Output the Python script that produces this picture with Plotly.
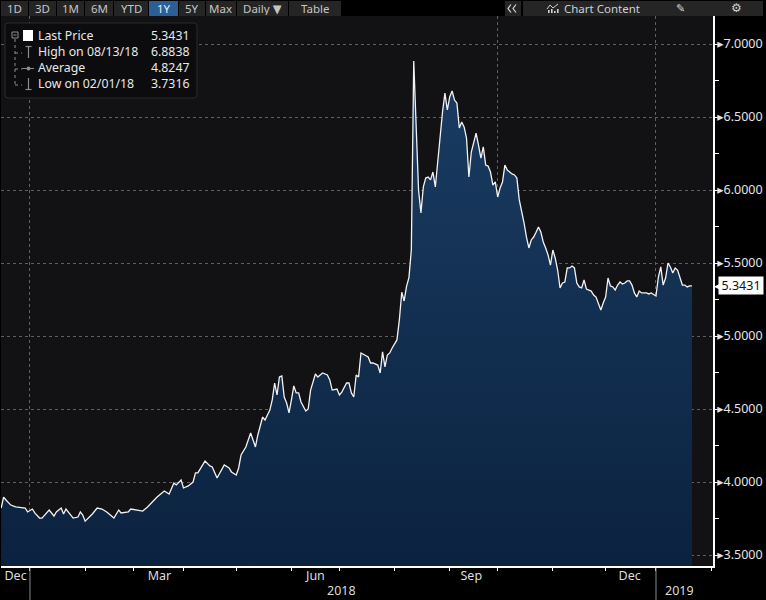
import plotly.graph_objects as go

# ---------------- data ----------------
dates = [
    "2017-12-14", "2017-12-15", "2017-12-18", "2017-12-20", "2017-12-22", "2017-12-28", "2017-12-29",
    "2018-01-02", "2018-01-03", "2018-01-05", "2018-01-08", "2018-01-11", "2018-01-15", "2018-01-16",
    "2018-01-18", "2018-01-19", "2018-01-22", "2018-01-24", "2018-01-25", "2018-01-29", "2018-01-30",
    "2018-01-31", "2018-02-01", "2018-02-06", "2018-02-08", "2018-02-12", "2018-02-14", "2018-02-19",
    "2018-02-21", "2018-02-22", "2018-02-27", "2018-02-28", "2018-03-05", "2018-03-07", "2018-03-09",
    "2018-03-14", "2018-03-15", "2018-03-20", "2018-03-22", "2018-03-26", "2018-03-27", "2018-03-29",
    "2018-03-30", "2018-04-03", "2018-04-05", "2018-04-06", "2018-04-09", "2018-04-11", "2018-04-12",
    "2018-04-16", "2018-04-17", "2018-04-19", "2018-04-23", "2018-04-24", "2018-04-26", "2018-04-27",
    "2018-05-01", "2018-05-02", "2018-05-03", "2018-05-07", "2018-05-09", "2018-05-11", "2018-05-14",
    "2018-05-16", "2018-05-17", "2018-05-21", "2018-05-22", "2018-05-23", "2018-05-24", "2018-05-25",
    "2018-05-28", "2018-05-29", "2018-05-30", "2018-05-31", "2018-06-01", "2018-06-04", "2018-06-05",
    "2018-06-06", "2018-06-07", "2018-06-11", "2018-06-12", "2018-06-13", "2018-06-15", "2018-06-18",
    "2018-06-19", "2018-06-20", "2018-06-22", "2018-06-25", "2018-06-26", "2018-06-28", "2018-06-29",
    "2018-07-02", "2018-07-04", "2018-07-05", "2018-07-06", "2018-07-09", "2018-07-10", "2018-07-11",
    "2018-07-12", "2018-07-16", "2018-07-17", "2018-07-18", "2018-07-19", "2018-07-23", "2018-07-24",
    "2018-07-25", "2018-07-26", "2018-07-27", "2018-07-30", "2018-07-31", "2018-08-02", "2018-08-03",
    "2018-08-06", "2018-08-07", "2018-08-08", "2018-08-09", "2018-08-10", "2018-08-13", "2018-08-14",
    "2018-08-15", "2018-08-16", "2018-08-17", "2018-08-20", "2018-08-21", "2018-08-22", "2018-08-23",
    "2018-08-24", "2018-08-27", "2018-08-28", "2018-08-29", "2018-08-30", "2018-08-31", "2018-09-03",
    "2018-09-04", "2018-09-05", "2018-09-06", "2018-09-07", "2018-09-10", "2018-09-11", "2018-09-12",
    "2018-09-13", "2018-09-14", "2018-09-18", "2018-09-19", "2018-09-20", "2018-09-21", "2018-09-24",
    "2018-09-25", "2018-09-26", "2018-09-27", "2018-09-28", "2018-10-01", "2018-10-02", "2018-10-03",
    "2018-10-04", "2018-10-05", "2018-10-08", "2018-10-09", "2018-10-10", "2018-10-11", "2018-10-12",
    "2018-10-15", "2018-10-16", "2018-10-17", "2018-10-18", "2018-10-19", "2018-10-22", "2018-10-23",
    "2018-10-24", "2018-10-25", "2018-10-26", "2018-10-29", "2018-10-30", "2018-10-31", "2018-11-01",
    "2018-11-02", "2018-11-05", "2018-11-06", "2018-11-07", "2018-11-08", "2018-11-09", "2018-11-12",
    "2018-11-13", "2018-11-14", "2018-11-15", "2018-11-16", "2018-11-19", "2018-11-20", "2018-11-21",
    "2018-11-23", "2018-11-26", "2018-11-27", "2018-11-28", "2018-11-29", "2018-11-30", "2018-12-03",
    "2018-12-04", "2018-12-05", "2018-12-06", "2018-12-07", "2018-12-10", "2018-12-11", "2018-12-12",
    "2018-12-13", "2018-12-14", "2018-12-17", "2018-12-18", "2018-12-19", "2018-12-20", "2018-12-21",
    "2018-12-24", "2018-12-26", "2018-12-27", "2018-12-28", "2019-01-01", "2019-01-02", "2019-01-03",
    "2019-01-04", "2019-01-07", "2019-01-08", "2019-01-09", "2019-01-10", "2019-01-11", "2019-01-14",
    "2019-01-16", "2019-01-17", "2019-01-18", "2019-01-21", "2019-01-22",
]
prices = [
    3.822, 3.897, 3.877, 3.842, 3.829, 3.822, 3.795,
    3.815, 3.788, 3.753, 3.753, 3.808, 3.767, 3.795,
    3.822, 3.781, 3.815, 3.774, 3.753, 3.760, 3.795,
    3.774, 3.7316, 3.781, 3.822, 3.815, 3.795, 3.753,
    3.808, 3.788, 3.795, 3.815, 3.808, 3.801, 3.829,
    3.884, 3.897, 3.938, 3.918, 3.993, 3.980, 4.014,
    3.959, 3.973, 4.000, 4.062, 4.062, 4.117, 4.144,
    4.110, 4.103, 4.027, 4.082, 4.117, 4.096, 4.069,
    4.048, 4.096, 4.185, 4.240, 4.336, 4.240, 4.322,
    4.445, 4.425, 4.493, 4.562, 4.678, 4.596, 4.719,
    4.726, 4.582, 4.541, 4.473, 4.562, 4.658, 4.610,
    4.610, 4.548, 4.486, 4.500, 4.630, 4.740, 4.719,
    4.733, 4.747, 4.733, 4.699, 4.630, 4.637, 4.596,
    4.616, 4.678, 4.678, 4.610, 4.582, 4.733, 4.719,
    4.884, 4.863, 4.856, 4.815, 4.815, 4.801, 4.747,
    4.891, 4.788, 4.870, 4.884, 4.918, 4.973, 5.110,
    5.300, 5.240, 5.340, 5.400, 5.590, 6.8838, 6.411,
    6.000, 5.843, 6.021, 6.082, 6.089, 6.069, 6.123,
    6.021, 6.171, 6.363, 6.534, 6.664, 6.548, 6.637,
    6.678, 6.616, 6.596, 6.425, 6.466, 6.432, 6.356,
    6.089, 6.260, 6.390, 6.308, 6.219, 6.295, 6.171,
    6.164, 6.123, 6.034, 6.055, 5.952, 6.014, 6.055,
    6.171, 6.137, 6.123, 6.110, 6.103, 6.082, 5.932,
    5.863, 5.774, 5.678, 5.603, 5.658, 5.678, 5.710,
    5.747, 5.712, 5.644, 5.603, 5.555, 5.486, 5.589,
    5.534, 5.452, 5.329, 5.363, 5.370, 5.466, 5.466,
    5.479, 5.466, 5.363, 5.336, 5.329, 5.384, 5.322,
    5.308, 5.281, 5.267, 5.226, 5.178, 5.226, 5.267,
    5.397, 5.343, 5.336, 5.315, 5.349, 5.370, 5.356,
    5.363, 5.377, 5.377, 5.349, 5.295, 5.267, 5.308,
    5.295, 5.295, 5.288, 5.295, 5.274, 5.404, 5.473,
    5.349, 5.397, 5.500, 5.473, 5.432, 5.466, 5.452,
    5.349, 5.349, 5.336, 5.343, 5.3431,
]

month_label_dates = ["2017-12-22", "2018-03-16", "2018-06-15", "2018-09-14", "2018-12-17"]
month_labels = ["Dec", "Mar", "Jun", "Sep", "Dec"]
quarter_dates = ["2018-01-01", "2018-04-01", "2018-07-01", "2018-10-01", "2019-01-01"]
year_start_dates = ["2018-01-01", "2019-01-01"]
year_label_dates = ["2018-07-02", "2019-01-15"]
year_labels = ["2018", "2019"]
y_ticks = [3.5, 4.0, 4.5, 5.0, 5.5, 6.0, 6.5, 7.0]

legend_names = ["Last Price", "High on 08/13/18", "Average", "Low on 02/01/18"]
legend_values = ["5.3431", "6.8838", "4.8247", "3.7316"]

toolbar_buttons = ["1D", "3D", "1M", "6M", "YTD", "1Y", "5Y", "Max", "Daily \u25BC", "Table"]
active_button = "1Y"

# ---------------- layout helpers (pixel -> paper) ----------------
WIDTH, HEIGHT = 766, 600
M_L, M_R, M_T, M_B = 1, 53, 16, 34
PW = WIDTH - M_L - M_R
PH = HEIGHT - M_T - M_B


def px(x):
    return (x - M_L) / PW


def py(y):
    return 1 - (y - M_T) / PH


FONT = "Noto Sans, DejaVu Sans, sans-serif"
GRID = "#5f5f62"
XRANGE = ["2017-12-13 22:00", "2019-02-01 18:30"]
BREAKS = [dict(bounds=["sat", "mon"])]

fig = go.Figure()

fig.add_trace(go.Scatter(
    x=dates, y=prices, mode="lines",
    line=dict(color="#f2f2f2", width=1.3),
    fill="tozeroy",
    fillgradient=dict(type="vertical", start=3.4, stop=6.9,
                      colorscale=[[0, "#0b223f"], [1, "#1a3d64"]]),
    hoverinfo="x+y", showlegend=False,
))
# carrier trace for the label axis
fig.add_trace(go.Scatter(x=[month_label_dates[0]], y=[None], xaxis="x2",
                         mode="lines", showlegend=False, hoverinfo="skip"))

shapes = []
annotations = []

# year divider lines below the axis
for d in year_start_dates:
    shapes.append(dict(type="line", xref="x", yref="paper", x0=d, x1=d,
                       y0=py(568), y1=py(600), line=dict(color="#8a8a8a", width=1)))
for d, t in zip(year_label_dates, year_labels):
    annotations.append(dict(xref="x", yref="paper", x=d, y=py(590), text=t,
                            showarrow=False, font=dict(family=FONT, size=12.5, color="#dcdcdc"),
                            xanchor="center", yanchor="middle", borderpad=0, height=15))

# last price tag
annotations.append(dict(xref="paper", yref="y", x=1, y=prices[-1], xanchor="left",
                        xshift=0, text="\u25C0", showarrow=False, borderpad=0,
                        font=dict(family="DejaVu Sans", size=9, color="white"), yanchor="middle"))
annotations.append(dict(xref="paper", yref="y", x=1, y=prices[-1], xanchor="left",
                        xshift=5, text=f"{prices[-1]:.4f}", showarrow=False,
                        bgcolor="white", width=44, height=17, borderpad=0,
                        font=dict(family=FONT, size=12.5, color="#111111"), yanchor="middle"))

# ---------------- legend box ----------------
r = 3
lx0, lx1, ly0, ly1 = 5, 197, 23, 98
legend_path = (
    f"M{px(lx0 + r)},{py(ly0)} L{px(lx1 - r)},{py(ly0)} Q{px(lx1)},{py(ly0)} {px(lx1)},{py(ly0 + r)} "
    f"L{px(lx1)},{py(ly1 - r)} Q{px(lx1)},{py(ly1)} {px(lx1 - r)},{py(ly1)} "
    f"L{px(lx0 + r)},{py(ly1)} Q{px(lx0)},{py(ly1)} {px(lx0)},{py(ly1 - r)} "
    f"L{px(lx0)},{py(ly0 + r)} Q{px(lx0)},{py(ly0)} {px(lx0 + r)},{py(ly0)} Z"
)
shapes.append(dict(type="path", xref="paper", yref="paper", path=legend_path,
                   fillcolor="#0c0c0f", line=dict(color="#2b2b2e", width=1), layer="above"))
row_y = [36, 52, 68, 84]
LEG_SIZE = 12.3  # 1.3 line spacing -> 16 px rows
annotations.append(dict(xref="paper", yref="paper", x=px(37), y=py(60),
                        text="<br>".join(legend_names), align="left",
                        showarrow=False, xanchor="left", yanchor="middle", borderpad=0,
                        font=dict(family=FONT, size=LEG_SIZE, color="#e8e8e8")))
annotations.append(dict(xref="paper", yref="paper", x=px(190), y=py(60),
                        text="<br>".join(legend_values), align="right",
                        showarrow=False, xanchor="right", yanchor="middle", borderpad=0,
                        font=dict(family=FONT, size=LEG_SIZE, color="#e8e8e8")))
ic = "#8c8c8c"
# tree lines
shapes.append(dict(type="line", xref="paper", yref="paper", x0=px(15), x1=px(15),
                   y0=py(39), y1=py(85), line=dict(color=ic, width=1, dash="dot"), layer="above"))
for ry in row_y[1:]:
    shapes.append(dict(type="line", xref="paper", yref="paper", x0=px(15), x1=px(22),
                       y0=py(ry + 1), y1=py(ry + 1), line=dict(color=ic, width=1, dash="dot"),
                       layer="above"))
# collapse box
shapes.append(dict(type="rect", xref="paper", yref="paper", x0=px(12), x1=px(18),
                   y0=py(38), y1=py(32), line=dict(color=ic, width=1), fillcolor="#0c0c0f",
                   layer="above"))
shapes.append(dict(type="line", xref="paper", yref="paper", x0=px(13.5), x1=px(16.5),
                   y0=py(35), y1=py(35), line=dict(color=ic, width=1), layer="above"))
# white square
shapes.append(dict(type="rect", xref="paper", yref="paper", x0=px(23), x1=px(33),
                   y0=py(41), y1=py(30), fillcolor="white", line=dict(width=0), layer="above"))
# high icon
shapes.append(dict(type="line", xref="paper", yref="paper", x0=px(28.5), x1=px(28.5),
                   y0=py(58), y1=py(46), line=dict(color=ic, width=1.2), layer="above"))
shapes.append(dict(type="line", xref="paper", yref="paper", x0=px(25.5), x1=px(31.5),
                   y0=py(46.5), y1=py(46.5), line=dict(color=ic, width=1.2), layer="above"))
# average icon
shapes.append(dict(type="line", xref="paper", yref="paper", x0=px(22), x1=px(34),
                   y0=py(68.5), y1=py(68.5), line=dict(color=ic, width=1), layer="above"))
shapes.append(dict(type="circle", xref="paper", yref="paper", x0=px(26.5), x1=px(30.5),
                   y0=py(70.5), y1=py(66.5), fillcolor=ic, line=dict(width=0), layer="above"))
# low icon
shapes.append(dict(type="line", xref="paper", yref="paper", x0=px(28.5), x1=px(28.5),
                   y0=py(90), y1=py(78), line=dict(color=ic, width=1.2), layer="above"))
shapes.append(dict(type="line", xref="paper", yref="paper", x0=px(25.5), x1=px(31.5),
                   y0=py(89.5), y1=py(89.5), line=dict(color=ic, width=1.2), layer="above"))

# ---------------- toolbar ----------------
btn_edges = [1, 29, 57, 85, 114, 149, 179, 206, 237, 289, 342]
for i, lab in enumerate(toolbar_buttons):
    x0, x1 = btn_edges[i], btn_edges[i + 1] - 1
    active = lab == active_button
    shapes.append(dict(type="rect", xref="paper", yref="paper", x0=px(x0), x1=px(x1),
                       y0=py(16), y1=py(1), fillcolor="#2b5f95" if active else "#252526",
                       line=dict(width=0), layer="above"))
    annotations.append(dict(xref="paper", yref="paper", x=px((x0 + x1) / 2), y=py(8.5),
                            text=lab, showarrow=False, xanchor="center", yanchor="middle",
                            borderpad=0, height=14,
                            font=dict(family=FONT, size=11.5,
                                      color="#e6eef8" if active else "#c4c4c4")))
# right toolbar
shapes.append(dict(type="rect", xref="paper", yref="paper", x0=px(505), x1=px(521),
                   y0=py(16), y1=py(1), fillcolor="#252526", line=dict(width=0), layer="above"))
shapes.append(dict(type="path", xref="paper", yref="paper",
                   path=f"M{px(511)},{py(4.5)} L{px(508)},{py(8.5)} L{px(511)},{py(12.5)} "
                        f"M{px(516)},{py(4.5)} L{px(513)},{py(8.5)} L{px(516)},{py(12.5)}",
                   line=dict(color="#d8d8d8", width=1.2), layer="above"))
shapes.append(dict(type="rect", xref="paper", yref="paper", x0=px(523), x1=px(763),
                   y0=py(16), y1=py(1), fillcolor="#252526", line=dict(width=0), layer="above"))
annotations.append(dict(xref="paper", yref="paper", x=px(563), y=py(8.5), text="Chart Content",
                        showarrow=False, xanchor="left", yanchor="middle", borderpad=0, height=14,
                        font=dict(family=FONT, size=11.5, color="#cfcfcf")))
# chart-content icon
shapes.append(dict(type="path", xref="paper", yref="paper",
                   path=f"M{px(547)},{py(9)} L{px(550)},{py(5)} L{px(553)},{py(8)} L{px(558)},{py(4)}",
                   line=dict(color="#cfcfcf", width=1), layer="above"))
for bx, bh in [(548, 3), (551, 4), (554, 2), (557, 4)]:
    shapes.append(dict(type="rect", xref="paper", yref="paper", x0=px(bx), x1=px(bx + 1.6),
                       y0=py(13), y1=py(13 - bh), fillcolor="#cfcfcf", line=dict(width=0),
                       layer="above"))
annotations.append(dict(xref="paper", yref="paper", x=px(680), y=py(8.5), text="\u270E",
                        showarrow=False, font=dict(family="DejaVu Sans", size=11, color="#cfcfcf"),
                        xanchor="center", yanchor="middle", borderpad=0, height=14))
annotations.append(dict(xref="paper", yref="paper", x=px(736), y=py(8.5), text="\u2699",
                        showarrow=False, font=dict(family="DejaVu Sans", size=12, color="#cfcfcf"),
                        xanchor="center", yanchor="middle", borderpad=0, height=14))

fig.update_layout(
    width=WIDTH, height=HEIGHT,
    margin=dict(l=M_L, r=M_R, t=M_T, b=M_B, autoexpand=False),
    paper_bgcolor="#000000", plot_bgcolor="#121215",
    showlegend=False,
    font=dict(family=FONT, color="#dcdcdc"),
    xaxis=dict(
        type="date", range=XRANGE, rangebreaks=BREAKS,
        tickmode="array", tickvals=quarter_dates, showticklabels=False,
        ticks="outside", ticklen=3, tickcolor="white", tickwidth=1,
        showgrid=True, gridcolor=GRID, griddash="3px,3px", gridwidth=1,
        showline=True, linecolor="white", linewidth=1.5,
        minor=dict(dtick="M1", tick0="2017-12-01", ticks="outside", ticklen=3,
                   tickcolor="white", tickwidth=1, showgrid=False),
        zeroline=False,
    ),
    xaxis2=dict(
        type="date", range=XRANGE, rangebreaks=BREAKS, overlaying="x", anchor="y",
        side="bottom", tickmode="array", tickvals=month_label_dates, ticktext=month_labels,
        ticks="", showgrid=False, showline=False, zeroline=False,
        tickfont=dict(family=FONT, size=12.5, color="#dcdcdc"),
    ),
    yaxis=dict(
        side="right", range=[3.4247, 7.1918],
        tickmode="array", tickvals=y_ticks,
        ticktext=["\u25B8" + f"{v:.4f}" for v in y_ticks],
        ticks="", showgrid=True, gridcolor=GRID, griddash="3px,3px", gridwidth=1,
        showline=True, linecolor="white", linewidth=1.5, zeroline=False,
        minor=dict(dtick=0.25, tick0=3.5, ticks="outside", ticklen=4,
                   tickcolor="white", tickwidth=1, showgrid=False),
        tickfont=dict(family=FONT, size=12.5, color="#e4e4e4"),
    ),
    shapes=shapes,
    annotations=annotations,
)

fig.write_html("out.html", config={"displayModeBar": False},
               post_script="document.body.style.margin='0px';document.body.style.background='#000';")
